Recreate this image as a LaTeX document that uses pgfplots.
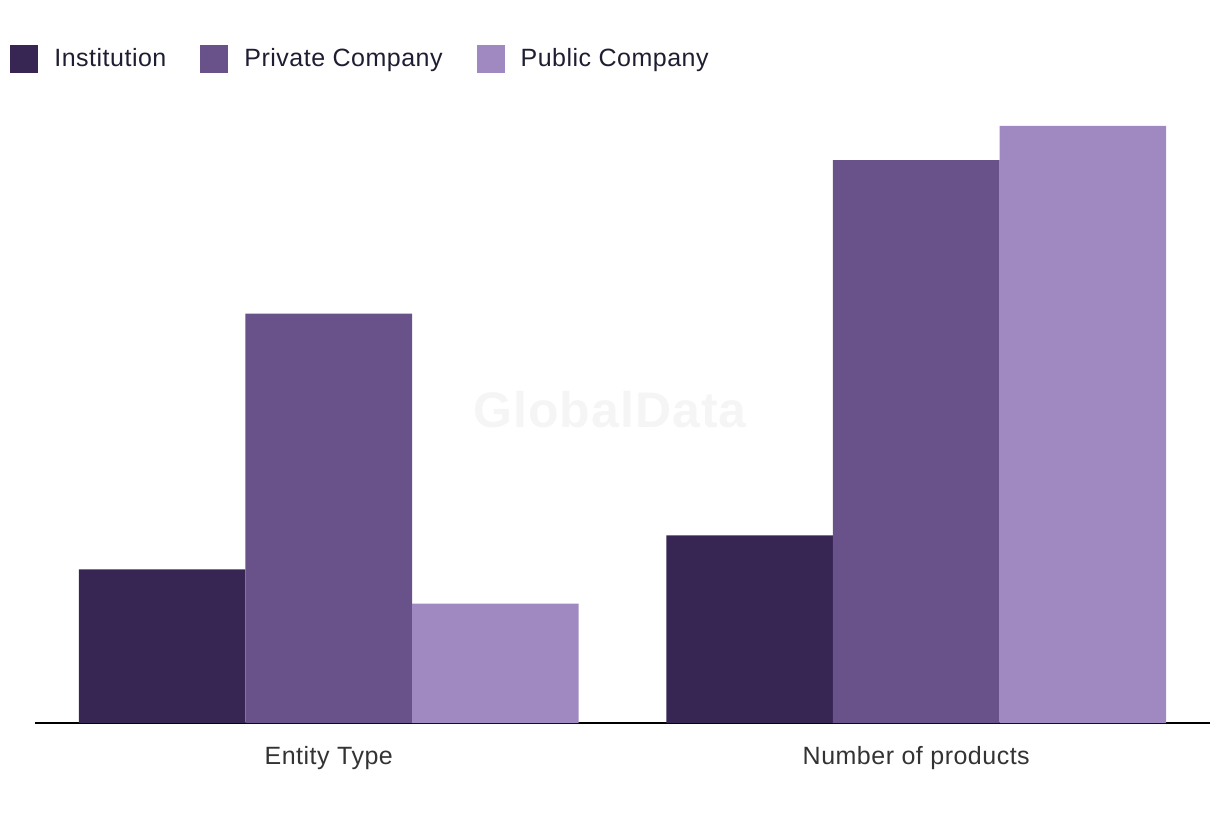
\documentclass[border=0pt]{standalone}
\usepackage{fontspec}
\setmainfont[LetterSpace=2]{Liberation Sans}
\usepackage{pgfplots}
\pgfplotsset{compat=1.18}

\definecolor{inst}{HTML}{372554}
\definecolor{priv}{HTML}{685289}
\definecolor{publ}{HTML}{A088C0}
\definecolor{legtext}{HTML}{1E1E32}
\definecolor{ticktext}{HTML}{333333}

\begin{document}
\begin{tikzpicture}
% watermark
\node[text=black!4, font=\bfseries\fontsize{25}{30}\selectfont] at (305pt,-205pt) {GlobalData};
\begin{axis}[
    at={(17.5pt,-361.5pt)}, anchor=south west,
    scale only axis, width=587.5pt, height=311.5pt,
    ybar=0pt, bar width=0.2836,
    xmin=-0.5, xmax=1.5, ymin=0, ymax=36.52,
    axis x line*=bottom, axis y line=none,
    x axis line style={line width=0.8pt, -},
    xtick={0,1}, xticklabels={Entity Type, Number of products},
    ytick=\empty, major tick length=0pt,
    xticklabel style={font=\fontsize{12.5}{15}\selectfont, text=ticktext, yshift=-8pt},
    legend columns=3,
    legend style={at={(-0.02128,1.0658)}, anchor=west, draw=none, fill=none,
        inner sep=0pt, font=\fontsize{12.5}{15}\selectfont, text=legtext,
        nodes={inner sep=0pt},
        /tikz/every odd column/.append style={column sep=8pt},
        /tikz/every even column/.append style={column sep=17pt}},
    legend image code/.code={\fill[#1] (0pt,-7pt) rectangle (14pt,7pt);},
    every axis plot/.append style={draw=none},
]
\addplot[fill=inst] coordinates {(0,9) (1,11)};
\addplot[fill=priv] coordinates {(0,24) (1,33)};
\addplot[fill=publ] coordinates {(0,7) (1,35)};
\legend{Institution, Private Company, Public Company}
\end{axis}
\pgfresetboundingbox
\path[use as bounding box] (0pt,0pt) rectangle (610pt,-410pt);
\end{tikzpicture}
\end{document}
